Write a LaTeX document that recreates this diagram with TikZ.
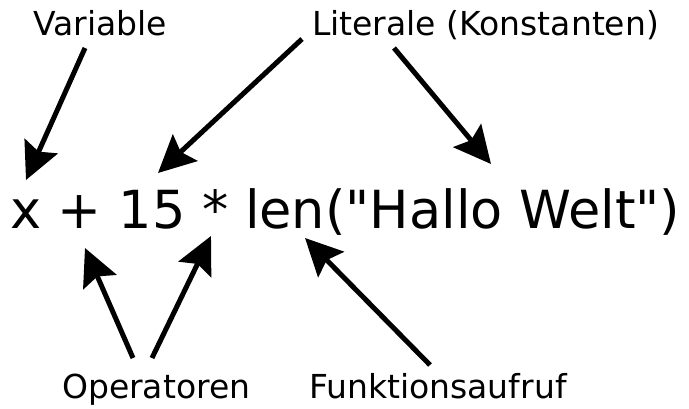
\documentclass[tikz,border=0pt]{standalone}
\usepackage{fontspec}
\setmainfont{DejaVu Sans}
\newfontfamily\exprfont{DejaVu Sans}[Ligatures=TeXOff]
\usetikzlibrary{arrows.meta}
\begin{document}
\begin{tikzpicture}[x=1pt,y=1pt,
  lbl/.style={anchor=base west,inner sep=0pt,font=\fontsize{33}{38}\selectfont},
  expr/.style={anchor=base west,inner sep=0pt,font=\exprfont\fontsize{52.5}{60}\selectfont},
  pointer/.style={line width=5pt,-{Stealth[length=37pt,width=36pt,inset=6pt]}}]
\useasboundingbox (0,0) rectangle (689,408);
\node[lbl] (var) at (33,372) {Variable};
\node[lbl] (lit) at (312,372) {Literale (Konstanten)};
\node[expr] (ex) at (10,180) {x + 15 * len("Hallo Welt")};
\node[lbl] (op) at (62,10) {Operatoren};
\node[lbl] (fn) at (309,10) {Funktionsaufruf};
% arrow ends
\coordinate (s1) at (85,360);  \coordinate (t1) at (26,228);
\coordinate (s2) at (302,369); \coordinate (t2) at (158,235);
\coordinate (s3) at (394,360); \coordinate (t3) at (491,244);
\coordinate (s4) at (133,50);  \coordinate (t4) at (85,160);
\coordinate (s5) at (152,50);  \coordinate (t5) at (211,172);
\coordinate (s6) at (430,43);  \coordinate (t6) at (305,170);
\draw[pointer] (s1) -- (t1);
\draw[pointer] (s2) -- (t2);
\draw[pointer] (s3) -- (t3);
\draw[pointer] (s4) -- (t4);
\draw[pointer] (s5) -- (t5);
\draw[pointer] (s6) -- (t6);
\end{tikzpicture}
\end{document}
